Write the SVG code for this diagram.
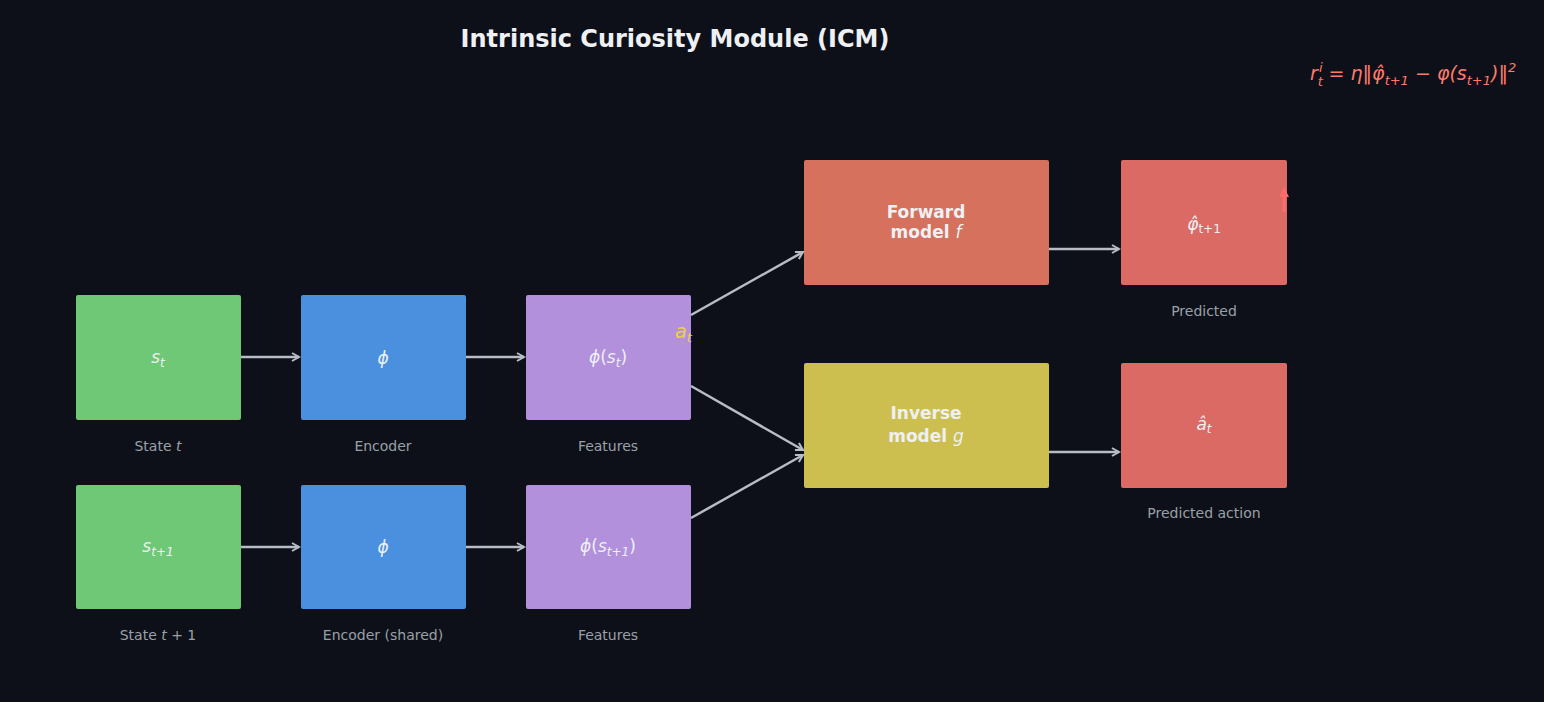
<svg xmlns="http://www.w3.org/2000/svg" width="1544" height="702" viewBox="0 0 1544 702">
<defs>
<marker id="ah" markerWidth="10" markerHeight="10" refX="8" refY="5" orient="auto" markerUnits="userSpaceOnUse"><path d="M1,1 L8,5 L1,9" fill="none" stroke="#b8bcc4" stroke-width="2"/></marker>
<marker id="rh" markerWidth="12" markerHeight="12" refX="6" refY="4" orient="auto" markerUnits="userSpaceOnUse"><path d="M1,9 L6,1 L11,9 Z" fill="#ff6b6b" transform="rotate(90 6 5)"/></marker>
<style>
text{font-family:"DejaVu Sans",sans-serif}
.lbl{fill:#eef0f4;font-size:17px;text-anchor:middle}
.cap{fill:#9aa0a8;font-size:14px;text-anchor:middle}
.bold{fill:#eef0f4;font-size:17px;font-weight:bold;text-anchor:middle}
.c{stroke:#b8bcc4;stroke-width:2.5;fill:none;marker-end:url(#ah)}
</style>
</defs>
<rect width="1544" height="702" fill="#0d1018"/>
<text x="675" y="47" font-size="24" font-weight="bold" fill="#eef0f4" text-anchor="middle">Intrinsic Curiosity Module (ICM)</text>
<text x="1310" y="80" font-size="19" fill="#ff7a6b" font-style="italic">r<tspan font-size="13" dy="6">t</tspan><tspan font-size="13" dx="-4" dy="-14">i</tspan><tspan dy="8" font-style="normal"> = </tspan>η‖φ̂<tspan font-size="13" dy="5">t+1</tspan><tspan dy="-5" font-style="normal"> − </tspan>φ(s<tspan font-size="13" dy="5">t+1</tspan><tspan dy="-5">)‖</tspan><tspan font-size="13" dy="-8">2</tspan></text>
<g id="s_t"><rect x="76" y="295" width="165" height="125" rx="2" fill="#6ec876"/><text class="lbl" x="158" y="363" font-style="italic">s<tspan font-size="12" dy="4">t</tspan></text><text class="cap" x="158" y="451">State <tspan font-style="italic">t</tspan></text></g>
<g id="enc1"><rect x="301" y="295" width="165" height="125" rx="2" fill="#4a90de"/><text class="lbl" x="383" y="364" font-style="italic">ϕ</text><text class="cap" x="383" y="451">Encoder</text></g>
<g id="feat1"><rect x="526" y="295" width="165" height="125" rx="2" fill="#b390dc"/><text class="lbl" x="608" y="363"><tspan font-style="italic">ϕ</tspan>(<tspan font-style="italic">s</tspan><tspan font-size="12" dy="4" font-style="italic">t</tspan><tspan dy="-4">)</tspan></text><text class="cap" x="608" y="451">Features</text></g>
<g id="s_t1"><rect x="76" y="485" width="165" height="124" rx="2" fill="#6ec876"/><text class="lbl" x="158" y="552" font-style="italic">s<tspan font-size="12" dy="4">t+1</tspan></text><text class="cap" x="158" y="640">State <tspan font-style="italic">t</tspan> + 1</text></g>
<g id="enc2"><rect x="301" y="485" width="165" height="124" rx="2" fill="#4a90de"/><text class="lbl" x="383" y="553" font-style="italic">ϕ</text><text class="cap" x="383" y="640">Encoder (shared)</text></g>
<g id="feat2"><rect x="526" y="485" width="165" height="124" rx="2" fill="#b390dc"/><text class="lbl" x="608" y="552"><tspan font-style="italic">ϕ</tspan>(<tspan font-style="italic">s</tspan><tspan font-size="12" dy="4" font-style="italic">t+1</tspan><tspan dy="-4">)</tspan></text><text class="cap" x="608" y="640">Features</text></g>
<g id="forward"><rect x="804" y="160" width="245" height="125" rx="2" fill="#d5715c"/><text class="bold" x="926" y="218">Forward</text><text class="bold" x="926" y="238">model <tspan font-style="italic" font-weight="normal">f</tspan></text></g>
<g id="inverse"><rect x="804" y="363" width="245" height="125" rx="2" fill="#cdbf4f"/><text class="bold" x="926" y="419">Inverse</text><text class="bold" x="926" y="442">model <tspan font-style="italic" font-weight="normal">g</tspan></text></g>
<g id="pred"><rect x="1121" y="160" width="166" height="125" rx="2" fill="#db6a64"/><text class="lbl" x="1204" y="230" font-style="italic">φ̂<tspan font-size="12" dy="3" font-style="normal">t+1</tspan></text><text class="cap" x="1204" y="316">Predicted</text></g>
<g id="predact"><rect x="1121" y="363" width="166" height="125" rx="2" fill="#db6a64"/><text class="lbl" x="1204" y="430" font-style="italic">â<tspan font-size="12" dy="3">t</tspan></text><text class="cap" x="1204" y="518">Predicted action</text></g>
<g id="connectors">
<line class="c" x1="241" y1="357" x2="299" y2="357"/>
<line class="c" x1="466" y1="357" x2="524" y2="357"/>
<line class="c" x1="241" y1="547" x2="299" y2="547"/>
<line class="c" x1="466" y1="547" x2="524" y2="547"/>
<line class="c" x1="691" y1="315" x2="803" y2="252"/>
<line class="c" x1="691" y1="386" x2="803" y2="450"/>
<line class="c" x1="691" y1="518" x2="803" y2="455"/>
<line class="c" x1="1049" y1="249" x2="1119" y2="249"/>
<line class="c" x1="1049" y1="452" x2="1119" y2="452"/>
<line x1="1284" y1="212" x2="1284" y2="192" stroke="#ff6b6b" stroke-width="3"/>
<path d="M1279,197 L1284,187 L1289,197 Z" fill="#ff6b6b"/>
</g>
<text x="675" y="338" font-size="19" fill="#f0d040" font-style="italic">a<tspan font-size="13" dy="4">t</tspan></text>
</svg>
